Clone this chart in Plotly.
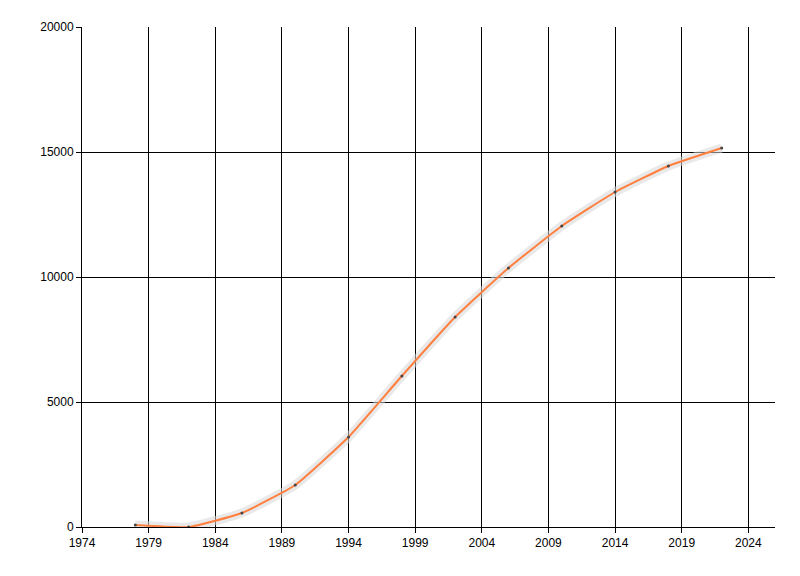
import plotly.graph_objects as go

years = [1978, 1982, 1986, 1990, 1994, 1998, 2002, 2006, 2010, 2014, 2018, 2022]
values = [80, 0, 560, 1680, 3600, 6040, 8400, 10360, 12040, 13400, 14440, 15160]

fig = go.Figure()

# soft grey halo under the line
fig.add_trace(go.Scatter(
    x=years, y=values, mode="lines",
    line=dict(color="rgba(215,215,215,0.55)", width=9, shape="spline", smoothing=0.4),
    hoverinfo="skip", showlegend=False,
))

fig.add_trace(go.Scatter(
    x=years, y=values, mode="lines+markers",
    line=dict(color="#ff7f3f", width=2, shape="spline", smoothing=0.4),
    marker=dict(color="#444444", size=3),
    showlegend=False,
))

axis_common = dict(
    showgrid=True, gridcolor="black", gridwidth=1,
    showline=True, linecolor="black", linewidth=1,
    ticks="outside", ticklen=5, tickcolor="black",
    zeroline=False, automargin=False,
    tickfont=dict(family="Liberation Sans", size=12, color="black"),
)

fig.update_xaxes(range=[1974, 2026], tick0=1974, dtick=5, **axis_common)
fig.update_yaxes(range=[0, 20000], tick0=0, dtick=5000, tickformat="d", **axis_common)

# page body adds an 8px offset, so margins are shifted accordingly
fig.update_layout(
    width=800, height=576,
    margin=dict(l=74, r=33, t=19, b=57),
    plot_bgcolor="white", paper_bgcolor="white",
)

fig.write_html("out.html")
